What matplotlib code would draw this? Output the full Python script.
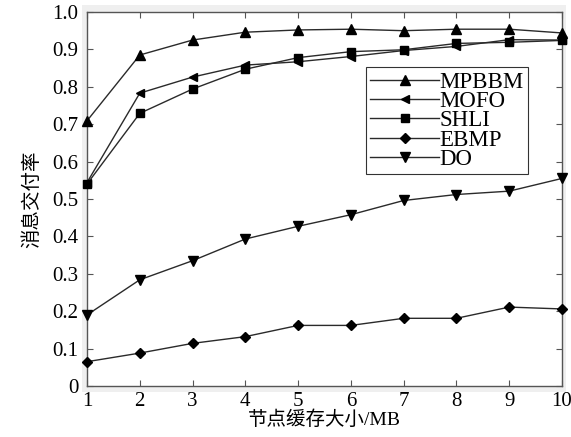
import matplotlib
matplotlib.use("Agg")
import matplotlib.pyplot as plt
from matplotlib.patches import Rectangle

plt.rcParams["font.family"] = ["Liberation Serif", "Noto Sans CJK SC"]

buffer_mb = [1, 2, 3, 4, 5, 6, 7, 8, 9, 10]
mpbbm = [0.709, 0.885, 0.925, 0.946, 0.952, 0.954, 0.950, 0.954, 0.954, 0.944]
mofo = [0.544, 0.783, 0.826, 0.858, 0.867, 0.881, 0.897, 0.908, 0.926, 0.925]
shli = [0.540, 0.729, 0.794, 0.847, 0.878, 0.894, 0.899, 0.916, 0.919, 0.924]
ebmp = [0.065, 0.088, 0.114, 0.132, 0.162, 0.162, 0.181, 0.181, 0.211, 0.206]
do = [0.190, 0.284, 0.335, 0.393, 0.427, 0.458, 0.496, 0.512, 0.521, 0.555]

series = [
    ("MPBBM", mpbbm, "^", 7),
    ("MOFO", mofo, "<", 6),
    ("SHLI", shli, "s", 6),
    ("EBMP", ebmp, "D", 5.5),
    ("DO", do, "v", 7),
]

fig = plt.figure(figsize=(5.71, 4.37), dpi=100)
# light grey margin behind the plot frame
fig.patches.append(Rectangle((82 / 571, 1 - 392 / 437), 484 / 571, 387 / 437,
                             transform=fig.transFigure, facecolor="#efefef",
                             edgecolor="none", zorder=-5))
ax = fig.add_axes([87 / 571, 1 - 386 / 437, 475 / 571, 374 / 437])
ax.set_facecolor("white")

for name, vals, marker, ms in series:
    ax.plot(buffer_mb, vals, color="#2a2a2a", linewidth=1.0, marker=marker,
            markersize=ms, markerfacecolor="black", markeredgecolor="black",
            label=name, clip_on=False, zorder=3)

ax.set_xlim(1, 10)
ax.set_ylim(0, 1.0)
ax.set_xticks(buffer_mb)
ax.set_yticks([i / 10 for i in range(11)])
ax.set_yticklabels(["0"] + [f"{i / 10:.1f}" for i in range(1, 11)])
ax.tick_params(direction="in", top=True, right=True, length=4, width=0.8,
               color="#555555", labelsize=15, pad=6)
ax.tick_params(axis="x", pad=4)
for s in ax.spines.values():
    s.set_color("#555555")
    s.set_linewidth(1.0)

ax.set_xlabel("节点缓存大小/MB", fontsize=14, labelpad=0)
ax.set_ylabel("消息交付率", fontsize=14, labelpad=8)

leg = ax.legend(loc="upper left", bbox_to_anchor=(0.587, 0.852), fontsize=16.5,
                frameon=True, fancybox=False, handlelength=3.0, handletextpad=0.0,
                labelspacing=-0.08, borderpad=0.2, borderaxespad=0)
leg.get_frame().set_edgecolor("black")
leg.get_frame().set_linewidth(0.8)

fig.savefig("out.png", dpi=100)
